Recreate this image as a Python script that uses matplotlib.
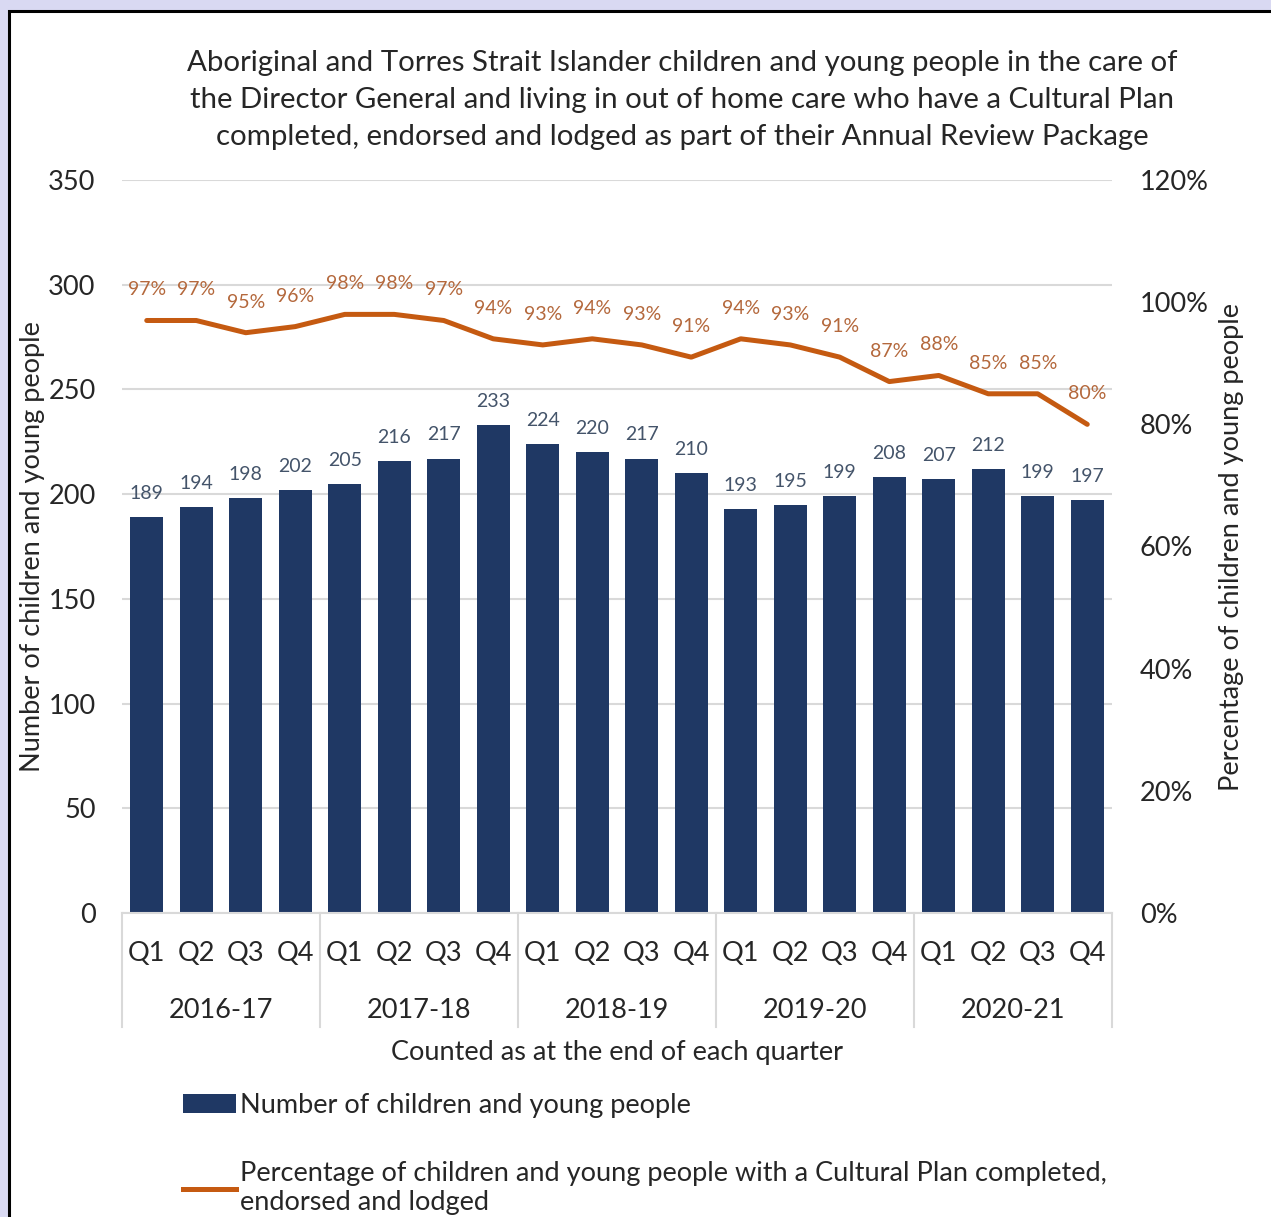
import matplotlib
matplotlib.use('Agg')
import matplotlib.pyplot as plt
import matplotlib.transforms as mtransforms
from matplotlib.patches import Rectangle, Patch
from matplotlib.lines import Line2D
from matplotlib.ticker import PercentFormatter

plt.rcParams['font.family'] = ['Lato', 'DejaVu Sans']

years = ['2016-17', '2017-18', '2018-19', '2019-20', '2020-21']
quarters = ['Q1', 'Q2', 'Q3', 'Q4']
counts = [189, 194, 198, 202, 205, 216, 217, 233, 224, 220,
          217, 210, 193, 195, 199, 208, 207, 212, 199, 197]
pct = [97, 97, 95, 96, 98, 98, 97, 94, 93, 94,
       93, 91, 94, 93, 91, 87, 88, 85, 85, 80]

bar_col = '#1f3864'
line_col = '#c55a11'
grid_col = '#d9d9d9'
text_col = '#262626'

W, H = 1271, 1217
fig = plt.figure(figsize=(W / 100, H / 100), dpi=100, facecolor='#d9d9f2')
# white panel with black frame
fig.patches.append(Rectangle((9 / W, -0.05), 1.1, 1 - 11 / H + 0.05,
                             transform=fig.transFigure, facecolor='white',
                             edgecolor='black', lw=2.2, zorder=-5))

ax = fig.add_axes([122 / W, 1 - 913 / H, 990 / W, 733 / H])
ax.set_facecolor('none')
x = list(range(len(counts)))
ax.bar(x, counts, width=0.67, color=bar_col, zorder=2)
ax.set_xlim(-0.5, len(counts) - 0.5)
ax.set_ylim(0, 350)
ax.set_yticks(range(0, 351, 50))
ax.yaxis.grid(True, color=grid_col, lw=1.5)
ax.set_axisbelow(True)
for s in ['top', 'left', 'right']:
    ax.spines[s].set_visible(False)
ax.spines['bottom'].set_color(grid_col)
ax.spines['bottom'].set_linewidth(1.5)
ax.tick_params(axis='y', length=0, pad=19, labelsize=19.5, labelcolor=text_col)
ax.set_xticks(x)
ax.set_xticklabels(quarters * len(years))
ax.tick_params(axis='x', length=0, pad=20, labelsize=19.5, labelcolor=text_col)

for i, v in enumerate(counts):
    ax.annotate(str(v), (i, v), xytext=(0, 17), textcoords='offset points',
                ha='center', va='center', color='#44546a', fontsize=14)

# year groups under the quarter labels
trans = mtransforms.blended_transform_factory(ax.transData, ax.transAxes)
for g, yr in enumerate(years):
    ax.text(g * 4 + 1.5, -0.1335, yr, transform=trans, ha='center', va='center',
            fontsize=19.5, color=text_col)
for g in range(len(years) + 1):
    b = g * 4 - 0.5
    ax.plot([b, b], [0, -0.1555], transform=trans, color=grid_col, lw=1.5,
            clip_on=False)

ax.text(0.5, -0.19, 'Counted as at the end of each quarter', transform=ax.transAxes,
        ha='center', va='center', fontsize=19.5, color=text_col)

ax2 = ax.twinx()
ax2.plot(x, [p / 100 for p in pct], color=line_col, lw=3.6, solid_joinstyle='round',
         solid_capstyle='round', zorder=3)
ax2.set_ylim(0, 1.2)
ax2.set_yticks([0, 0.2, 0.4, 0.6, 0.8, 1.0, 1.2])
ax2.yaxis.set_major_formatter(PercentFormatter(1, decimals=0))
for s in ['top', 'left', 'right', 'bottom']:
    ax2.spines[s].set_visible(False)
ax2.tick_params(axis='y', length=0, pad=20, labelsize=19.5, labelcolor=text_col)
for i, p in enumerate(pct):
    ax2.annotate(f'{p}%', (i, p / 100), xytext=(0, 22), textcoords='offset points',
                 ha='center', va='center', color='#b4683c', fontsize=14)

fig.text(33 / W, 1 - 547 / H, 'Number of children and young people', rotation=90,
         ha='center', va='center', fontsize=19.5, color=text_col)
fig.text(1232 / W, 1 - 547 / H, 'Percentage of children and young people', rotation=90,
         ha='center', va='center', fontsize=19.5, color=text_col)

title = ('Aboriginal and Torres Strait Islander children and young people in the care of\n'
         'the Director General and living in out of home care who have a Cultural Plan\n'
         'completed, endorsed and lodged as part of their Annual Review Package')
fig.text(682 / W, 1 - 100 / H, title, ha='center', va='center', fontsize=21.2,
         linespacing=1.52, color=text_col)

handles = [Patch(facecolor=bar_col),
           Line2D([], [], color=line_col, lw=3.6)]
labels = ['Number of children and young people',
          'Percentage of children and young people with a Cultural Plan completed,\nendorsed and lodged']
fig.legend(handles, labels, loc='upper left', bbox_to_anchor=(183 / W, 1 - 1093 / H),
           frameon=False, fontsize=19.5, handlelength=1.95, handletextpad=0.15,
           labelspacing=1.6, borderpad=0, borderaxespad=0, labelcolor=text_col)

fig.savefig('out.png', dpi=100, facecolor=fig.get_facecolor())
